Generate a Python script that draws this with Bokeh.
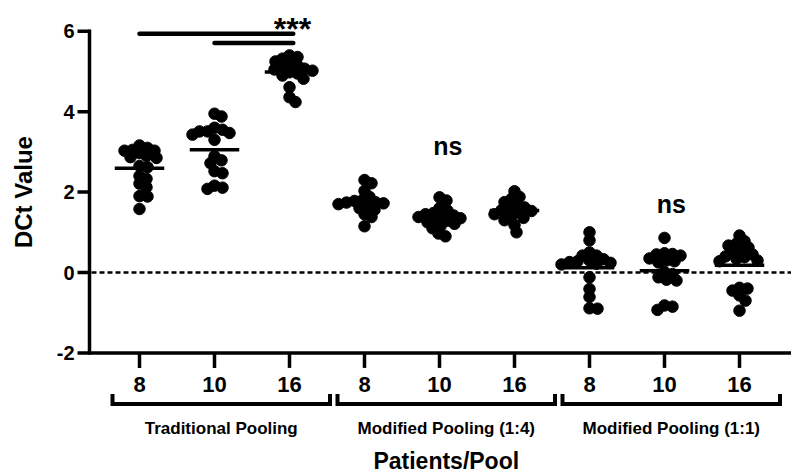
import numpy as np
from bokeh.plotting import figure
from bokeh.core.properties import value
from bokeh.embed import file_html
from bokeh.resources import INLINE

# ---------------- data ----------------
groups = ["Traditional Pooling", "Modified Pooling (1:4)", "Modified Pooling (1:1)"]
pool_sizes = ["8", "10", "16"]

trad_8 = [3.16, 3.10, 3.05, 3.03, 3.03, 2.97, 2.90, 2.87, 2.85, 2.62, 2.65, 2.40,
          2.33, 2.21, 2.12, 1.89, 1.90, 1.58]
trad_10 = [3.95, 3.88, 3.60, 3.55, 3.51, 3.51, 3.47, 3.43, 3.30, 2.89, 2.79, 2.72,
           2.52, 2.47, 2.16, 2.11, 2.08]
trad_16 = [5.40, 5.36, 5.32, 5.25, 5.18, 5.15, 5.11, 5.07, 5.05, 5.02, 4.98, 4.95,
           4.90, 4.82, 4.61, 4.36, 4.24]
mod14_8 = [2.30, 2.22, 2.03, 1.88, 1.80, 1.78, 1.75, 1.74, 1.72, 1.70, 1.66, 1.60,
           1.56, 1.45, 1.38, 1.15]
mod14_10 = [1.87, 1.79, 1.60, 1.54, 1.48, 1.45, 1.42, 1.42, 1.38, 1.35, 1.30, 1.29,
            1.25, 1.21, 1.15, 1.10, 0.97, 0.90]
mod14_16 = [2.02, 1.88, 1.83, 1.75, 1.68, 1.62, 1.58, 1.55, 1.53, 1.50, 1.45, 1.40,
            1.36, 1.30, 1.18, 1.00]
mod11_8 = [1.00, 0.80, 0.50, 0.42, 0.42, 0.33, 0.30, 0.28, 0.26, 0.24, 0.22, 0.20,
           -0.12, -0.41, -0.61, -0.89, -0.90]
mod11_10 = [0.86, 0.48, 0.46, 0.45, 0.42, 0.35, 0.30, 0.28, 0.25, 0.01, -0.04, -0.12,
            -0.18, -0.20, -0.82, -0.85, -0.93]
mod11_16 = [0.92, 0.78, 0.72, 0.67, 0.62, 0.55, 0.50, 0.45, 0.40, 0.38, 0.34, 0.30,
            0.28, -0.38, -0.40, -0.45, -0.57, -0.70, -0.95]

y_ticks = [-2, 0, 2, 4, 6]
y_tick_labels = ["-2", "0", "2", "4", "6"]
y_label = "DCt Value"
x_label = "Patients/Pool"
sig_star = "***"
sig_ns = "ns"
sig_pairs = [(0, 2), (1, 2)]   # compared columns (traditional pooling)
sig_levels = [5.94, 5.71]

series = [trad_8, trad_10, trad_16, mod14_8, mod14_10, mod14_16,
          mod11_8, mod11_10, mod11_16]
cats = np.arange(1, len(series) + 1, dtype=float)

# ---------------- geometry ----------------
FONT = value("Liberation Sans")
PX_X, PX_Y = 75.0, 40.2          # pixels per data unit
W, H = 791, 474
x_start = 1 - 139 / PX_X          # first column 139 px from the left
x_end = x_start + W / PX_X
y_end = 272 / PX_Y                # zero line 272 px from the top
y_start = y_end - H / PX_Y
x_axis = 1 - 50 / PX_X            # y axis sits 50 px left of first column
y_min, y_max = y_ticks[0], y_ticks[-1]


def dx(px):
    return px / PX_X


def dy(px):
    return px / PX_Y


def swarm(vals, min_dist=7.5, step=1.0, max_k=60):
    v = np.asarray(vals, float)
    order = np.argsort(-v, kind="stable")
    placed = []
    offs = np.zeros(len(v))
    md2 = min_dist ** 2
    cands = [0.0]
    for k in range(1, max_k):
        cands += [k * step, -k * step]
    for i in order:
        yp = v[i] * PX_Y
        chosen = cands[-1]
        for c in cands:
            if all((c - px) ** 2 + (yp - py) ** 2 >= md2 for px, py in placed):
                chosen = c
                break
        offs[i] = chosen / PX_X
        placed.append((chosen, yp))
    return offs


p = figure(width=W, height=H, x_range=(x_start, x_end), y_range=(y_start, y_end),
           output_backend="svg", toolbar_location=None, x_axis_location=None,
           y_axis_location=None, min_border=0, outline_line_color=None,
           background_fill_color="white", border_fill_color="white")
p.grid.visible = False

txt = dict(text_font=FONT, text_font_style="bold", text_color="black")

# ----- y axis -----
p.segment(x0=[x_axis], y0=[y_min], x1=[x_axis], y1=[y_max], line_width=3.5,
          color="black", line_cap="square")
p.segment(x0=[x_axis - dx(12)] * len(y_ticks), y0=y_ticks,
          x1=[x_axis] * len(y_ticks), y1=y_ticks, line_width=3.5, color="black")
p.text(x=[x_axis - dx(15)] * len(y_ticks), y=y_ticks, text=y_tick_labels,
       text_font_size=value("20px"), text_align="right", text_baseline="middle", **txt)
p.text(x=[x_axis - dx(66)], y=[(y_min + y_max) / 2], text=[y_label], angle=np.pi / 2,
       text_font_size=value("24px"), text_align="center", text_baseline="middle", **txt)

# ----- x axis and zero reference line -----
p.segment(x0=[x_axis], y0=[y_min], x1=[x_end], y1=[y_min], line_width=3.5,
          color="black")
p.segment(x0=[x_axis + dx(2)], y0=[0], x1=[x_end], y1=[0], line_width=2.5,
          color="black", line_dash="5 3")

p.segment(x0=cats, y0=[y_min] * len(cats), x1=cats,
          y1=[y_min - dy(15)] * len(cats), line_width=3.5, color="black")
p.text(x=cats, y=[y_min - dy(32)] * len(cats), text=pool_sizes * len(groups),
       text_font_size=value("22px"), text_align="center", text_baseline="middle", **txt)

# group brackets and labels
bx, by, gx = [], [], []
for g in range(len(groups)):
    a = cats[3 * g] - 0.36
    b = cats[3 * g + 2] + 0.54
    bx.append([a, a, b, b])
    by.append([y_min - dy(41), y_min - dy(51), y_min - dy(51), y_min - dy(41)])
    gx.append((a + b) / 2)
p.multi_line(bx, by, line_width=4, color="black", line_join="miter")
p.text(x=gx, y=[y_min - dy(75.5)] * len(groups), text=groups,
       text_font_size=value("17px"), text_align="center", text_baseline="middle", **txt)
p.text(x=[gx[1]], y=[y_min - dy(108)], text=[x_label],
       text_font_size=value("23px"), text_align="center", text_baseline="middle", **txt)

# ----- mean lines -----
means = [float(np.mean(v)) for v in series]
p.segment(x0=cats - 0.33, y0=means, x1=cats + 0.33, y1=means,
          line_width=3.5, color="black")

# ----- points -----
xs, ys = [], []
for c, vals in zip(cats, series):
    off = swarm(vals)
    xs += list(c + off)
    ys += list(vals)
p.scatter(xs, ys, size=11.5, marker="circle", color="black")

# ----- significance bars and labels -----
p.segment(x0=[cats[a] for a, b in sig_pairs], y0=sig_levels,
          x1=[cats[b] + 0.05 for a, b in sig_pairs], y1=sig_levels,
          line_width=4.5, color="black", line_cap="round")
p.text(x=[cats[2] + 0.04], y=[6.06], text=[sig_star],
       text_font_size=value("32px"), text_align="center", text_baseline="middle", **txt)
p.text(x=[cats[4] + 0.11, cats[7] + 0.09], y=[3.15, 1.71], text=[sig_ns, sig_ns],
       text_font_size=value("25px"), text_align="center", text_baseline="middle", **txt)

open("out.html", "w").write(file_html(p, INLINE))
